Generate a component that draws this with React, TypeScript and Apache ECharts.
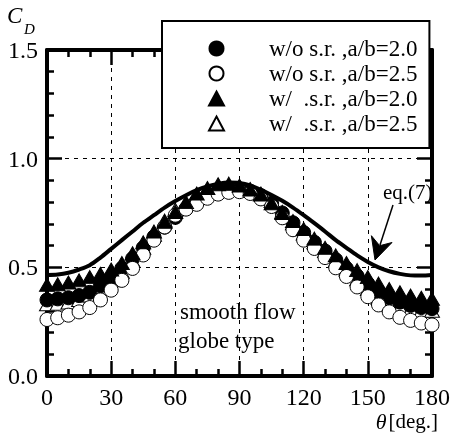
import React, { useEffect, useRef } from "react";
import * as echarts from "echarts";

const THETA = [0, 5, 10, 15, 20, 25, 30, 35, 40, 45, 50, 55, 60, 65, 70, 75, 80, 85, 90, 95, 100, 105, 110, 115, 120, 125, 130, 135, 140, 145, 150, 155, 160, 165, 170, 175, 180];

// w/o s.r., a/b=2.0 (filled circles)
const CD_WO_20 = [0.35, 0.355, 0.36, 0.37, 0.385, 0.415, 0.45, 0.495, 0.54, 0.59, 0.64, 0.685, 0.73, 0.77, 0.805, 0.83, 0.85, 0.86, 0.86, 0.85, 0.83, 0.795, 0.75, 0.705, 0.66, 0.615, 0.575, 0.535, 0.495, 0.46, 0.425, 0.39, 0.36, 0.34, 0.325, 0.315, 0.31];
// w/o s.r., a/b=2.5 (open circles)
const CD_WO_25 = [0.26, 0.268, 0.28, 0.295, 0.315, 0.35, 0.395, 0.44, 0.495, 0.557, 0.625, 0.686, 0.74, 0.768, 0.79, 0.818, 0.837, 0.845, 0.848, 0.84, 0.815, 0.78, 0.728, 0.673, 0.625, 0.587, 0.545, 0.498, 0.458, 0.41, 0.365, 0.327, 0.295, 0.27, 0.256, 0.244, 0.235];
// w/ s.r., a/b=2.0 (filled triangles)
const CD_W_20 = [0.42, 0.422, 0.43, 0.44, 0.455, 0.47, 0.49, 0.52, 0.565, 0.615, 0.665, 0.71, 0.755, 0.8, 0.84, 0.865, 0.882, 0.885, 0.876, 0.858, 0.835, 0.795, 0.75, 0.713, 0.676, 0.632, 0.59, 0.555, 0.52, 0.487, 0.455, 0.425, 0.4, 0.385, 0.37, 0.36, 0.355];
// w/ s.r., a/b=2.5 (open triangles)
const CD_W_25 = [0.33, 0.333, 0.338, 0.35, 0.37, 0.4, 0.44, 0.48, 0.53, 0.59, 0.65, 0.715, 0.765, 0.795, 0.82, 0.845, 0.86, 0.868, 0.868, 0.86, 0.84, 0.805, 0.755, 0.703, 0.655, 0.615, 0.575, 0.53, 0.49, 0.445, 0.4, 0.36, 0.33, 0.315, 0.305, 0.3, 0.3];
// eq.(7)
const CD_EQ7 = [0.465, 0.467, 0.475, 0.49, 0.51, 0.545, 0.585, 0.625, 0.665, 0.705, 0.74, 0.775, 0.805, 0.832, 0.855, 0.872, 0.884, 0.89, 0.888, 0.877, 0.857, 0.833, 0.806, 0.775, 0.74, 0.703, 0.665, 0.625, 0.59, 0.555, 0.525, 0.5, 0.482, 0.47, 0.463, 0.462, 0.465];

const X_MIN = 0, X_MAX = 180, X_STEP = 30;
const Y_MIN = 0, Y_MAX = 1.5, Y_STEP = 0.5;

const LEGEND_NAMES = [
  "w/o s.r. ,a/b=2.0",
  "w/o s.r. ,a/b=2.5",
  "w/  .s.r. ,a/b=2.0",
  "w/  .s.r. ,a/b=2.5",
];

const FONT = "'Liberation Serif', 'Times New Roman', serif";

const zip = (ys: number[]) => THETA.map((t, i) => [t, ys[i]]);

export default function App() {
  const ref = useRef<HTMLDivElement>(null);
  useEffect(() => {
    if (!ref.current) return;
    const chart = echarts.init(ref.current, undefined, { renderer: "svg" });

    const axisLine = { show: true, onZero: false, lineStyle: { color: "#000", width: 4 } };
    const tick = { show: true, inside: true, length: 15, lineStyle: { color: "#000", width: 2.5 } };
    const xMinor = { show: true, splitNumber: 3, length: 7, lineStyle: { color: "#000", width: 2.5 } };
    const yMinor = { show: true, splitNumber: 5, length: 7, lineStyle: { color: "#000", width: 2.5 } };
    const split = { show: true, lineStyle: { color: "#000", width: 1, type: [4, 5] } };
    const label = { color: "#000", fontSize: 24, fontFamily: FONT, margin: 9 };

    const open = { color: "#fff", borderColor: "#000", borderWidth: 1, opacity: 1 };
    const filled = { color: "#000", borderColor: "#000", borderWidth: 1, opacity: 1 };

    chart.setOption({
      animation: false,
      textStyle: { fontFamily: FONT },
      grid: { left: 47, top: 50, width: 393, height: 326, containLabel: false },
      xAxis: [
        {
          type: "value", position: "bottom", min: X_MIN, max: X_MAX, interval: X_STEP,
          axisLine, axisTick: tick, minorTick: xMinor, splitLine: split,
          axisLabel: label,
        },
        {
          type: "value", position: "top", min: X_MIN, max: X_MAX, interval: X_STEP,
          axisLine, axisTick: tick, minorTick: xMinor, splitLine: { show: false },
          axisLabel: { show: false },
        },
      ],
      yAxis: [
        {
          type: "value", position: "left", min: Y_MIN, max: Y_MAX, interval: Y_STEP,
          axisLine, axisTick: tick, minorTick: yMinor, splitLine: split,
          axisLabel: { ...label, formatter: (v: number) => v.toFixed(1) },
        },
        {
          type: "value", position: "right", min: Y_MIN, max: Y_MAX, interval: Y_STEP,
          axisLine, axisTick: tick, minorTick: yMinor, splitLine: { show: false },
          axisLabel: { show: false },
        },
      ],
      legend: {
        orient: "vertical",
        left: 162,
        top: 21,
        padding: [16, 12, 13, 46],
        itemGap: 2,
        itemWidth: 15,
        itemHeight: 14,
        backgroundColor: "#fff",
        borderColor: "#000",
        borderWidth: 2,
        borderRadius: 0,
        z: 10,
        data: LEGEND_NAMES,
        itemStyle: { opacity: 1 },
        textStyle: { color: "#000", fontSize: 23, lineHeight: 23, fontFamily: FONT, padding: [0, 0, 0, 40] },
      },
      series: [
        {
          name: LEGEND_NAMES[3], type: "scatter", data: zip(CD_W_25),
          symbol: "triangle", symbolSize: [15, 13], itemStyle: open, z: 2,
        },
        {
          name: LEGEND_NAMES[0], type: "scatter", data: zip(CD_WO_20),
          symbol: "circle", symbolSize: 14, itemStyle: filled, z: 3,
        },
        {
          name: LEGEND_NAMES[1], type: "scatter", data: zip(CD_WO_25),
          symbol: "circle", symbolSize: 14, itemStyle: open, z: 4,
        },
        {
          name: LEGEND_NAMES[2], type: "scatter", data: zip(CD_W_20),
          symbol: "triangle", symbolSize: [15, 13], itemStyle: filled, z: 5,
        },
        {
          name: "eq.(7)", type: "line", data: zip(CD_EQ7), smooth: 0.3,
          showSymbol: false, symbol: "none", lineStyle: { color: "#000", width: 4 }, z: 6,
        },
      ],
      graphic: [
        { type: "text", left: 7, top: 4, style: { text: "C", fontSize: 23, fontStyle: "italic", fontFamily: FONT, fill: "#000" } },
        { type: "text", left: 24, top: 21, style: { text: "D", fontSize: 15, fontStyle: "italic", fontFamily: FONT, fill: "#000" } },
        {
          type: "text", right: 15, top: 410,
          style: {
            text: "{t|θ}[deg.]", fontSize: 21, fontFamily: FONT, fill: "#000",
            rich: { t: { fontStyle: "italic", fontSize: 22, fontFamily: FONT, padding: [0, 2, 0, 0] } },
          },
        },
        { type: "text", left: 383, top: 181, style: { text: "eq.(7)", fontSize: 21, fontFamily: FONT, fill: "#000" } },
        { type: "text", left: 180, top: 300, style: { text: "smooth flow", fontSize: 23, fontFamily: FONT, fill: "#000" } },
        { type: "text", left: 178, top: 329, style: { text: "globe type", fontSize: 23, fontFamily: FONT, fill: "#000" } },
        { type: "line", z: 20, shape: { x1: 393, y1: 205, x2: 380, y2: 245 }, style: { stroke: "#000", lineWidth: 1.5 } },
        {
          type: "polygon", z: 20,
          shape: { points: [[375, 260], [392, 242.5], [379.7, 245.7], [371.4, 235.7]] },
          style: { fill: "#000", stroke: "#000", lineWidth: 1 },
        },
      ],
    });
    return () => chart.dispose();
  }, []);
  return <div ref={ref} style={{ position: "fixed", left: 0, top: 0, width: 453, height: 439 }} />;
}
